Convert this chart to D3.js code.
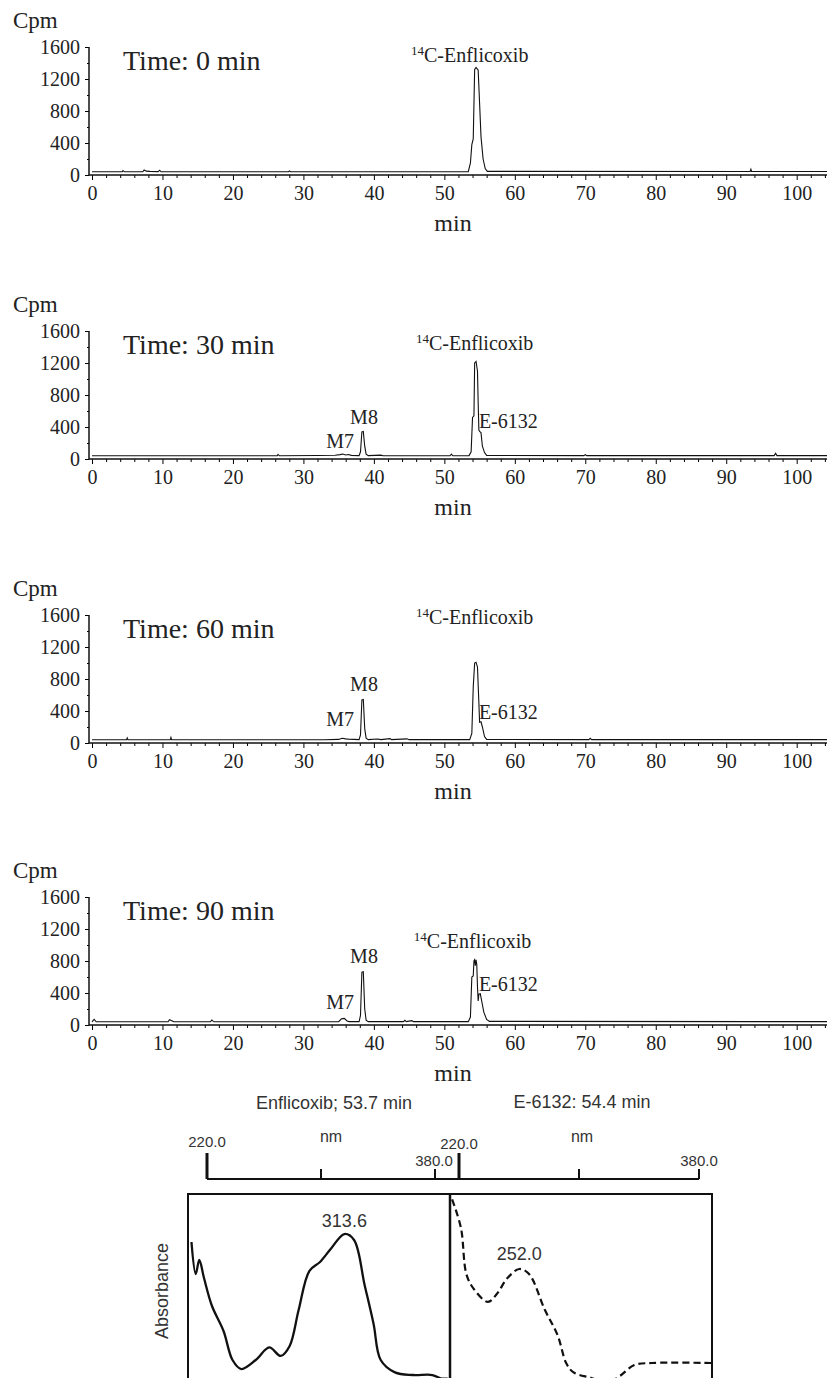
<!DOCTYPE html>
<html>
<head>
<meta charset="utf-8">
<script src="https://cdn.jsdelivr.net/npm/d3@7"></script>
<style>
  html, body { margin: 0; padding: 0; background: #fff; }
  svg { display: block; background: #fff; }
  .serif { font-family: "Liberation Serif", "Times New Roman", serif; fill: #222; }
  .sans { font-family: "Liberation Sans", Arial, sans-serif; fill: #333; }
</style>
</head>
<body>
<svg id="chart" width="827" height="1378"></svg>
<script>
// --- data: radio-chromatograms (min, cpm) ---
const panelTimes = ["0", "30", "60", "90"];

const trace0 = [[0,40],[4.3,40],[4.4,55],[4.6,40],[7.2,40],[7.4,62],[7.7,48],[8.2,45],[9.4,42],[9.6,60],[9.8,40],
  [27.9,40],[28,50],[28.2,40],[53.4,42],[53.7,150],[53.9,380],[54.1,450],[54.3,1320],[54.5,1345],[54.8,1310],
  [55.0,900],[55.2,480],[55.5,200],[55.8,80],[56.1,45],[93.4,44],[93.5,72],[93.6,44],[104.3,44]];

const trace30 = [[0,40],[26.3,40],[26.4,58],[26.6,40],[32,44],[34.5,46],[35.2,55],[35.6,62],[36.0,50],[36.4,56],
  [36.8,45],[37.9,42],[38.1,90],[38.3,340],[38.5,345],[38.7,160],[38.9,60],[39.2,42],[41,48],[41.3,40],
  [50.8,40],[51.0,62],[51.2,40],[53.5,42],[53.8,90],[54.0,520],[54.2,540],[54.3,1200],[54.5,1220],[54.7,1100],
  [54.8,700],[54.9,360],[55.0,345],[55.2,330],[55.4,160],[55.7,80],[56.0,45],[69.8,42],[70,55],[70.2,42],
  [96.8,42],[97,70],[97.2,42],[104.3,42]];

const trace60 = [[0,40],[4.9,40],[5.0,62],[5.1,40],[11.1,40],[11.2,70],[11.3,40],[33,40],[35,45],[35.5,60],
  [36,52],[36.4,48],[37.9,42],[38.1,100],[38.3,540],[38.5,545],[38.7,180],[38.9,60],[39.2,42],[40.5,50],[41,42],
  [42.3,55],[42.5,42],[44.7,52],[45,42],[53.6,42],[53.9,120],[54.1,700],[54.3,1000],[54.5,1010],[54.7,950],
  [54.9,500],[55.0,260],[55.2,265],[55.4,200],[55.7,80],[56.0,45],[70.5,42],[70.7,58],[70.9,42],[104.3,42]];

const trace90 = [[0,40],[0.3,70],[0.6,40],[10.8,40],[11.0,65],[11.4,50],[11.6,40],[16.8,40],[17.0,62],[17.3,40],
  [35.0,42],[35.4,78],[35.8,82],[36.2,50],[36.5,42],[37.9,42],[38.1,120],[38.3,660],[38.5,665],[38.7,200],
  [38.9,60],[39.2,42],[44.2,42],[44.4,58],[44.6,42],[45.4,55],[45.6,42],[53.4,42],[53.7,100],[53.9,600],
  [54.1,612],[54.2,800],[54.3,815],[54.4,740],[54.5,815],[54.6,760],[54.7,480],[54.8,300],[54.9,385],
  [55.1,390],[55.3,300],[55.6,160],[56.0,70],[56.4,45],[104.3,42]];

const traces = [trace0, trace30, trace60, trace90];

const xMajorTicks = [0, 10, 20, 30, 40, 50, 60, 70, 80, 90, 100];
const yMajorTicks = [0, 400, 800, 1200, 1600];

// --- data: UV spectra (nm, relative absorbance) ---
const spectrumTitles = ["Enflicoxib; 53.7 min", "E-6132: 54.4 min"];
const nmTicks = [220, 300, 380];

const enflicoxibSpectrum = [[209.1,0.746],[212.1,0.573],[214.6,0.649],[217.9,0.551],[223.5,0.40],[231.6,0.265],
  [237.9,0.108],[244.1,0.059],[254.2,0.108],[263.7,0.176],[271.7,0.13],[278,0.184],[284.3,0.378],[291.8,0.589],
  [299.3,0.638],[306.8,0.708],[316.4,0.789],[323.2,0.757],[330.6,0.514],[336.9,0.303],[341.9,0.108],
  [351.9,0.041],[364.5,0.027],[378.2,0.027],[384.5,0.008],[389,0.008]];

const e6132Spectrum = [[215.4,0.977],[221.3,0.822],[224.9,0.573],[229.7,0.494],[239.3,0.422],[245.2,0.465],
  [252.3,0.551],[260.2,0.60],[266.7,0.573],[277.3,0.378],[285.7,0.243],[291.6,0.089],[296.4,0.041],
  [308.3,0.011],[319,-0.016],[327.3,0.022],[336.9,0.081],[348.7,0.092],[388,0.092]];

const spectrumPeaks = ["313.6", "252.0"];

// --- layout ---
const svg = d3.select("#chart");
const panelBase = [175, 459, 743, 1025];   // y of the zero line in each panel
const plotH = 128;
const axisX = 89;
const serifFont = '"Liberation Serif", "Times New Roman", serif';

const x = d3.scaleLinear().domain([0, 104.3]).range([92, 827]);
const y = d3.scaleLinear().domain([0, 1600]).range([plotH, 0]);

// peak labels per panel, in (min, cpm)
const peakLabels = [
  [{t: "enf", m: 53.6, c: 1412}],
  [{t: "enf", m: 54.3, c: 1360}, {t: "M8", m: 38.6, c: 437}, {t: "M7", m: 35.2, c: 137}, {t: "E-6132", m: 54.9, c: 387, a: "start"}],
  [{t: "enf", m: 54.3, c: 1487}, {t: "M8", m: 38.6, c: 650}, {t: "M7", m: 35.2, c: 212}, {t: "E-6132", m: 54.9, c: 300, a: "start"}],
  [{t: "enf", m: 54.0, c: 962}, {t: "M8", m: 38.6, c: 775}, {t: "M7", m: 35.2, c: 200}, {t: "E-6132", m: 54.9, c: 425, a: "start"}]
];

const line = d3.line().x(d => x(d[0])).y(d => y(d[1]));

function serifTicks(a) {
  a.attr("font-family", serifFont).attr("font-size", 20);
  a.selectAll("text").attr("fill", "#222");
}

traces.forEach((trace, i) => {
  const g = svg.append("g").attr("transform", `translate(0,${panelBase[i] - plotH})`);

  // x axis: minor + major ticks
  const xMinor = d3.range(0, 105, 2).filter(v => v % 10 !== 0);
  g.append("g").attr("transform", `translate(0,${plotH})`)
    .call(d3.axisBottom(x).tickValues(xMinor).tickSize(3).tickFormat(""))
    .call(a => a.select(".domain").remove());
  g.append("g").attr("transform", `translate(0,${plotH})`)
    .call(d3.axisBottom(x).tickValues(xMajorTicks).tickSize(5).tickPadding(6))
    .call(a => a.select(".domain").remove())
    .call(serifTicks);

  // y axis
  g.append("g").attr("transform", `translate(${axisX},0)`)
    .call(d3.axisLeft(y).tickValues([200, 600, 1000, 1400]).tickSize(2).tickFormat(""))
    .call(a => a.select(".domain").remove());
  g.append("g").attr("transform", `translate(${axisX},0)`)
    .call(d3.axisLeft(y).tickValues(yMajorTicks).tickSize(4).tickPadding(5).tickFormat(d3.format("d")))
    .call(a => a.select(".domain").remove())
    .call(serifTicks);

  g.append("line").attr("x1", axisX).attr("x2", axisX).attr("y1", y(1600)).attr("y2", plotH + 0.5)
    .attr("stroke", "#111").attr("stroke-width", 1.5);
  g.append("line").attr("x1", axisX).attr("x2", 827).attr("y1", plotH).attr("y2", plotH)
    .attr("stroke", "#111").attr("stroke-width", 1.6);

  // trace
  g.append("path").datum(trace).attr("d", line)
    .attr("fill", "none").attr("stroke", "#111").attr("stroke-width", 1.1);

  // texts
  g.append("text").attr("class", "serif").attr("x", 13).attr("y", plotH - 147)
    .style("font-size", "23px").text("Cpm");
  g.append("text").attr("class", "serif").attr("x", 123).attr("y", plotH - 105)
    .style("font-size", "28px").text(`Time: ${panelTimes[i]} min`);
  g.append("text").attr("class", "serif").attr("x", 453).attr("y", plotH + 56)
    .attr("text-anchor", "middle").style("font-size", "24px").text("min");

  peakLabels[i].forEach(l => {
    const t = g.append("text").attr("class", "serif").style("font-size", "20px")
      .attr("x", x(l.m)).attr("y", y(l.c)).attr("text-anchor", l.a || "middle");
    if (l.t === "enf") {
      t.append("tspan").style("font-size", "13px").attr("dy", -7).text("14");
      t.append("tspan").attr("dy", 7).text("C-Enflicoxib");
    } else {
      t.text(l.t);
    }
  });
});

// --- UV spectra ---
const boxTop = 1194, boxL = 188, boxR = 712, divX = 450, axisY = 1179;
const xL = d3.scaleLinear().domain([220, 380]).range([207, 435]);
const xR = d3.scaleLinear().domain([220, 380]).range([459, 699]);
const yS = d3.scaleLinear().domain([0, 1]).range([1380, 1195]);

svg.append("text").attr("class", "sans").attr("x", 334).attr("y", 1109)
  .attr("text-anchor", "middle").style("font-size", "18px").text(spectrumTitles[0]);
svg.append("text").attr("class", "sans").attr("x", 582).attr("y", 1108)
  .attr("text-anchor", "middle").style("font-size", "18px").text(spectrumTitles[1]);

// top wavelength axis
svg.append("line").attr("x1", 207).attr("x2", 699).attr("y1", axisY).attr("y2", axisY)
  .attr("stroke", "#111").attr("stroke-width", 2);
[xL, xR].forEach((sc, k) => {
  nmTicks.forEach(v => {
    const tall = v === 220;
    svg.append("line").attr("x1", sc(v)).attr("x2", sc(v))
      .attr("y1", tall ? 1153 : axisY - 10).attr("y2", axisY)
      .attr("stroke", "#111").attr("stroke-width", tall ? 3 : 2);
  });
  svg.append("text").attr("class", "sans").attr("x", sc(220)).attr("y", k === 0 ? 1147 : 1149)
    .attr("text-anchor", "middle").style("font-size", "15px").text(d3.format(".1f")(220));
  svg.append("text").attr("class", "sans").attr("x", sc(380) - (k === 0 ? 1 : 0)).attr("y", 1166)
    .attr("text-anchor", "middle").style("font-size", "15px").text(d3.format(".1f")(380));
  svg.append("text").attr("class", "sans").attr("x", sc(300) + (k === 0 ? 10 : 3)).attr("y", 1142)
    .attr("text-anchor", "middle").style("font-size", "16px").text("nm");
});

// frame
svg.append("rect").attr("x", boxL).attr("y", boxTop).attr("width", boxR - boxL).attr("height", 200)
  .attr("fill", "none").attr("stroke", "#111").attr("stroke-width", 2);
svg.append("line").attr("x1", divX).attr("x2", divX).attr("y1", boxTop).attr("y2", 1378)
  .attr("stroke", "#111").attr("stroke-width", 2.5);

svg.append("text").attr("class", "sans")
  .attr("transform", "translate(168,1291) rotate(-90)")
  .attr("text-anchor", "middle").style("font-size", "18px").text("Absorbance");

svg.append("clipPath").attr("id", "clipL").append("rect")
  .attr("x", boxL).attr("y", boxTop).attr("width", divX - boxL).attr("height", 200);
svg.append("clipPath").attr("id", "clipR").append("rect")
  .attr("x", divX).attr("y", boxTop - 6).attr("width", boxR - divX).attr("height", 200);

svg.append("path").datum(enflicoxibSpectrum)
  .attr("d", d3.line().curve(d3.curveCatmullRom).x(d => xL(d[0])).y(d => yS(d[1])))
  .attr("clip-path", "url(#clipL)")
  .attr("fill", "none").attr("stroke", "#111").attr("stroke-width", 2.3);
svg.append("path").datum(e6132Spectrum)
  .attr("d", d3.line().curve(d3.curveCatmullRom).x(d => xR(d[0])).y(d => yS(d[1])))
  .attr("clip-path", "url(#clipR)")
  .attr("fill", "none").attr("stroke", "#111").attr("stroke-width", 2.2)
  .attr("stroke-dasharray", "7,4");

svg.append("text").attr("class", "sans").attr("x", xL(316.4)).attr("y", yS(0.789) - 7)
  .attr("text-anchor", "middle").style("font-size", "18px").text(spectrumPeaks[0]);
svg.append("text").attr("class", "sans").attr("x", xR(260.2)).attr("y", yS(0.60) - 9)
  .attr("text-anchor", "middle").style("font-size", "18px").text(spectrumPeaks[1]);
</script>
</body>
</html>
